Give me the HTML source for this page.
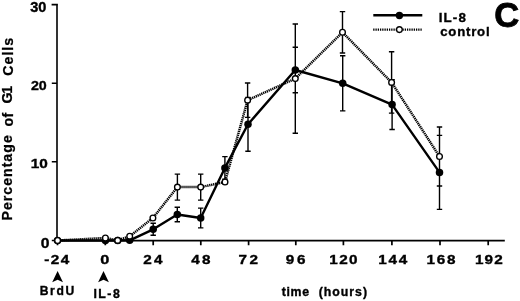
<!DOCTYPE html>
<html><head><meta charset="utf-8"><style>
html,body{margin:0;padding:0;background:#fff;}
body{width:520px;height:301px;overflow:hidden;}
svg{display:block;filter:grayscale(1);}
</style></head><body>
<svg width="520" height="301" viewBox="0 0 520 301">
<rect width="520" height="301" fill="#fff"/>
<g stroke="#000" fill="none" stroke-linecap="butt">
<path d="M57.0,3.7 V241.3 M51.6,4.6 H57.9 M51.8,83.2 H57 M51.8,161.7 H57 M51.8,240.5 H57" stroke-width="1.6"/>
<path d="M56.2,240.6 H504.8 M57.5,240.6 V245.2 M105.3,240.6 V245.2 M153.2,240.6 V245.2 M200.8,240.6 V245.2 M248.6,240.6 V245.2 M295.8,240.6 V245.2 M343.4,240.6 V245.2 M391.9,240.6 V245.2 M440.0,240.6 V245.2 M488.2,240.6 V245.2" stroke-width="1.7"/>
</g>
<polyline points="57.6,240.5 105.4,238 117.7,240.4 129.7,236.2 152.9,218 177.4,187.1 200.7,187.1 225,182 247.6,100.2 295.3,78.6 342.5,32.3 391.6,82.4 439.5,156.5" fill="none" stroke="#000" stroke-width="2.5" stroke-dasharray="1.3 0.7"/>
<polyline points="57.5,240.5 105.4,240.5 117.7,240.5 129.7,240.3 153.2,229.3 177.3,214.5 200.7,218 224.9,167.9 248,124.3 295.3,70 342.7,83.3 392.1,104.6 439.5,172.4" fill="none" stroke="#000" stroke-width="2.4" stroke-linejoin="round"/>
<path d="M153.2,223.30 V235.30 M150.50,223.30 H155.90 M150.50,235.30 H155.90 M177.3,207.30 V221.70 M174.60,207.30 H180.00 M174.60,221.70 H180.00 M200.7,208.10 V227.90 M198.00,208.10 H203.40 M198.00,227.90 H203.40 M224.9,156.60 V179.20 M222.20,156.60 H227.60 M222.20,179.20 H227.60 M248,97.40 V151.20 M245.30,97.40 H250.70 M245.30,151.20 H250.70 M295.3,47.30 V92.70 M292.60,47.30 H298.00 M292.60,92.70 H298.00 M342.7,55.70 V110.90 M340.00,55.70 H345.40 M340.00,110.90 H345.40 M392.1,79.70 V129.50 M389.40,79.70 H394.80 M389.40,129.50 H394.80 M439.5,135.40 V209.40 M436.80,135.40 H442.20 M436.80,209.40 H442.20 M177.4,174.10 V200.10 M174.70,174.10 H180.10 M174.70,200.10 H180.10 M200.7,174.10 V200.10 M198.00,174.10 H203.40 M198.00,200.10 H203.40 M247.6,83.00 V117.40 M244.90,83.00 H250.30 M244.90,117.40 H250.30 M295.3,24.00 V133.20 M292.60,24.00 H298.00 M292.60,133.20 H298.00 M342.5,11.60 V53.00 M339.80,11.60 H345.20 M339.80,53.00 H345.20 M391.6,51.70 V113.10 M388.90,51.70 H394.30 M388.90,113.10 H394.30 M439.5,127.00 V186.00 M436.80,127.00 H442.20 M436.80,186.00 H442.20" stroke="#000" stroke-width="1.4" fill="none"/>
<circle cx="57.5" cy="240.5" r="3.75" fill="#000"/>
<circle cx="105.4" cy="240.5" r="3.75" fill="#000"/>
<circle cx="117.7" cy="240.5" r="3.75" fill="#000"/>
<circle cx="129.7" cy="240.3" r="3.75" fill="#000"/>
<circle cx="153.2" cy="229.3" r="3.75" fill="#000"/>
<circle cx="177.3" cy="214.5" r="3.75" fill="#000"/>
<circle cx="200.7" cy="218" r="3.75" fill="#000"/>
<circle cx="224.9" cy="167.9" r="3.75" fill="#000"/>
<circle cx="248" cy="124.3" r="3.75" fill="#000"/>
<circle cx="295.3" cy="70" r="3.75" fill="#000"/>
<circle cx="342.7" cy="83.3" r="3.75" fill="#000"/>
<circle cx="392.1" cy="104.6" r="3.75" fill="#000"/>
<circle cx="439.5" cy="172.4" r="3.75" fill="#000"/>
<circle cx="57.6" cy="240.5" r="2.85" fill="#fff" stroke="#000" stroke-width="1.35"/>
<circle cx="105.4" cy="238" r="2.85" fill="#fff" stroke="#000" stroke-width="1.35"/>
<circle cx="117.7" cy="240.4" r="2.85" fill="#fff" stroke="#000" stroke-width="1.35"/>
<circle cx="129.7" cy="236.2" r="2.85" fill="#fff" stroke="#000" stroke-width="1.35"/>
<circle cx="152.9" cy="218" r="2.85" fill="#fff" stroke="#000" stroke-width="1.35"/>
<circle cx="177.4" cy="187.1" r="2.85" fill="#fff" stroke="#000" stroke-width="1.35"/>
<circle cx="200.7" cy="187.1" r="2.85" fill="#fff" stroke="#000" stroke-width="1.35"/>
<circle cx="225" cy="182" r="2.85" fill="#fff" stroke="#000" stroke-width="1.35"/>
<circle cx="247.6" cy="100.2" r="2.85" fill="#fff" stroke="#000" stroke-width="1.35"/>
<circle cx="295.3" cy="78.6" r="2.85" fill="#fff" stroke="#000" stroke-width="1.35"/>
<circle cx="342.5" cy="32.3" r="2.85" fill="#fff" stroke="#000" stroke-width="1.35"/>
<circle cx="391.6" cy="82.4" r="2.85" fill="#fff" stroke="#000" stroke-width="1.35"/>
<circle cx="439.5" cy="156.5" r="2.85" fill="#fff" stroke="#000" stroke-width="1.35"/>
<path d="M373.3,15.3 H422.3" stroke="#000" stroke-width="2.4"/>
<circle cx="399.4" cy="15.5" r="3.7" fill="#000"/>
<path d="M373.2,29.6 H421.7" stroke="#000" stroke-width="2.3" stroke-dasharray="1.3 0.95"/>
<circle cx="399.4" cy="29.6" r="2.85" fill="#fff" stroke="#000" stroke-width="1.35"/>
<path d="M57.6,270.9 L63.0,282.3 L57.6,279.7 L52.2,282.3 Z" fill="#000"/>
<path d="M103.5,270.9 L108.9,282.3 L103.5,279.7 L98.1,282.3 Z" fill="#000"/>
<text font-family="Liberation Sans" font-weight="bold" stroke="#000" stroke-width="0.35" font-size="13.818" letter-spacing="0" xml:space="preserve" transform="translate(30.15,11.85) scale(1.0533,1)">30</text>
<text font-family="Liberation Sans" font-weight="bold" stroke="#000" stroke-width="0.35" font-size="13.486" letter-spacing="0" xml:space="preserve" transform="translate(30.9,89.85) scale(1.0566,1)">20</text>
<text font-family="Liberation Sans" font-weight="bold" stroke="#000" stroke-width="0.35" font-size="13.42" letter-spacing="0" xml:space="preserve" transform="translate(30.65,168.35) scale(1.1457,1)">10</text>
<text font-family="Liberation Sans" font-weight="bold" stroke="#000" stroke-width="0.35" font-size="14.338" letter-spacing="0" xml:space="preserve" transform="translate(40.65,247.6) scale(1.0963,1)">0</text>
<text font-family="Liberation Sans" font-weight="bold" stroke="#000" stroke-width="0.35" font-size="13.3" letter-spacing="1.304" xml:space="preserve" transform="translate(44.15,264.1) scale(1.15,1)">-24</text>
<text font-family="Liberation Sans" font-weight="bold" stroke="#000" stroke-width="0.35" font-size="13.3" letter-spacing="1.5" xml:space="preserve" transform="translate(100.15,264.1) scale(1.2275,1)">0</text>
<text font-family="Liberation Sans" font-weight="bold" stroke="#000" stroke-width="0.35" font-size="13.3" letter-spacing="2.04" xml:space="preserve" transform="translate(143.15,264.1) scale(1.15,1)">24</text>
<text font-family="Liberation Sans" font-weight="bold" stroke="#000" stroke-width="0.35" font-size="13.3" letter-spacing="2.04" xml:space="preserve" transform="translate(191.15,264.1) scale(1.15,1)">48</text>
<text font-family="Liberation Sans" font-weight="bold" stroke="#000" stroke-width="0.35" font-size="13.3" letter-spacing="2.175" xml:space="preserve" transform="translate(238.4,264.1) scale(1.15,1)">72</text>
<text font-family="Liberation Sans" font-weight="bold" stroke="#000" stroke-width="0.35" font-size="13.3" letter-spacing="2.4" xml:space="preserve" transform="translate(285.65,264.1) scale(1.15,1)">96</text>
<text font-family="Liberation Sans" font-weight="bold" stroke="#000" stroke-width="0.35" font-size="13.3" letter-spacing="1.288" xml:space="preserve" transform="translate(329.15,264.1) scale(1.15,1)">120</text>
<text font-family="Liberation Sans" font-weight="bold" stroke="#000" stroke-width="0.35" font-size="13.3" letter-spacing="1.556" xml:space="preserve" transform="translate(378.15,264.1) scale(1.15,1)">144</text>
<text font-family="Liberation Sans" font-weight="bold" stroke="#000" stroke-width="0.35" font-size="13.3" letter-spacing="1.546" xml:space="preserve" transform="translate(426.4,264.1) scale(1.15,1)">168</text>
<text font-family="Liberation Sans" font-weight="bold" stroke="#000" stroke-width="0.35" font-size="13.3" letter-spacing="0.996" xml:space="preserve" transform="translate(474.9,264.1) scale(1.15,1)">192</text>
<text font-family="Liberation Sans" font-weight="bold" stroke="#000" stroke-width="0.35" font-size="12.1" letter-spacing="1.71" xml:space="preserve" transform="translate(39.65,294.85) scale(1,1)">BrdU</text>
<text font-family="Liberation Sans" font-weight="bold" stroke="#000" stroke-width="0.35" font-size="12.3" letter-spacing="1.505" xml:space="preserve" transform="translate(93.4,297.6) scale(1,1)">IL-8</text>
<text font-family="Liberation Sans" font-weight="bold" stroke="#000" stroke-width="0.35" font-size="12.3" letter-spacing="0.73" xml:space="preserve" transform="translate(281.65,295.9) scale(1,1)">time</text>
<text font-family="Liberation Sans" font-weight="bold" stroke="#000" stroke-width="0.35" font-size="12.3" letter-spacing="1.005" xml:space="preserve" transform="translate(318.65,296.3) scale(1,1)">(hours)</text>
<text font-family="Liberation Sans" font-weight="bold" stroke="#000" stroke-width="0.35" font-size="13.4" letter-spacing="1.14" xml:space="preserve" transform="translate(438.65,22.35) scale(1,1)">IL-8</text>
<text font-family="Liberation Sans" font-weight="bold" stroke="#000" stroke-width="0.35" font-size="13.2" letter-spacing="0.799" xml:space="preserve" transform="translate(440.15,35.85) scale(1,1)">control</text>
<text font-family="Liberation Sans" font-weight="bold" stroke="#000" stroke-width="0.8" font-size="35.864" letter-spacing="0" xml:space="preserve" transform="translate(494.15,26.6) scale(0.9666,1)">C</text>
<text font-family="Liberation Sans" font-weight="bold" stroke="#000" stroke-width="0.25" font-size="14.2" letter-spacing="0.975" xml:space="preserve" transform="translate(12.25,220.5) rotate(-90) scale(1,1)">Percentage</text>
<text font-family="Liberation Sans" font-weight="bold" stroke="#000" stroke-width="0.25" font-size="14.2" letter-spacing="0.5" xml:space="preserve" transform="translate(12.75,126.55) rotate(-90) scale(1,1)">of</text>
<text font-family="Liberation Sans" font-weight="bold" stroke="#000" stroke-width="0.25" font-size="14.2" letter-spacing="-1.255" xml:space="preserve" transform="translate(12.25,103.5) rotate(-90) scale(1,1)">G1</text>
<text font-family="Liberation Sans" font-weight="bold" stroke="#000" stroke-width="0.25" font-size="14.2" letter-spacing="0.99" xml:space="preserve" transform="translate(12.75,75.7) rotate(-90) scale(1,1)">Cells</text>
</svg>
</body></html>
